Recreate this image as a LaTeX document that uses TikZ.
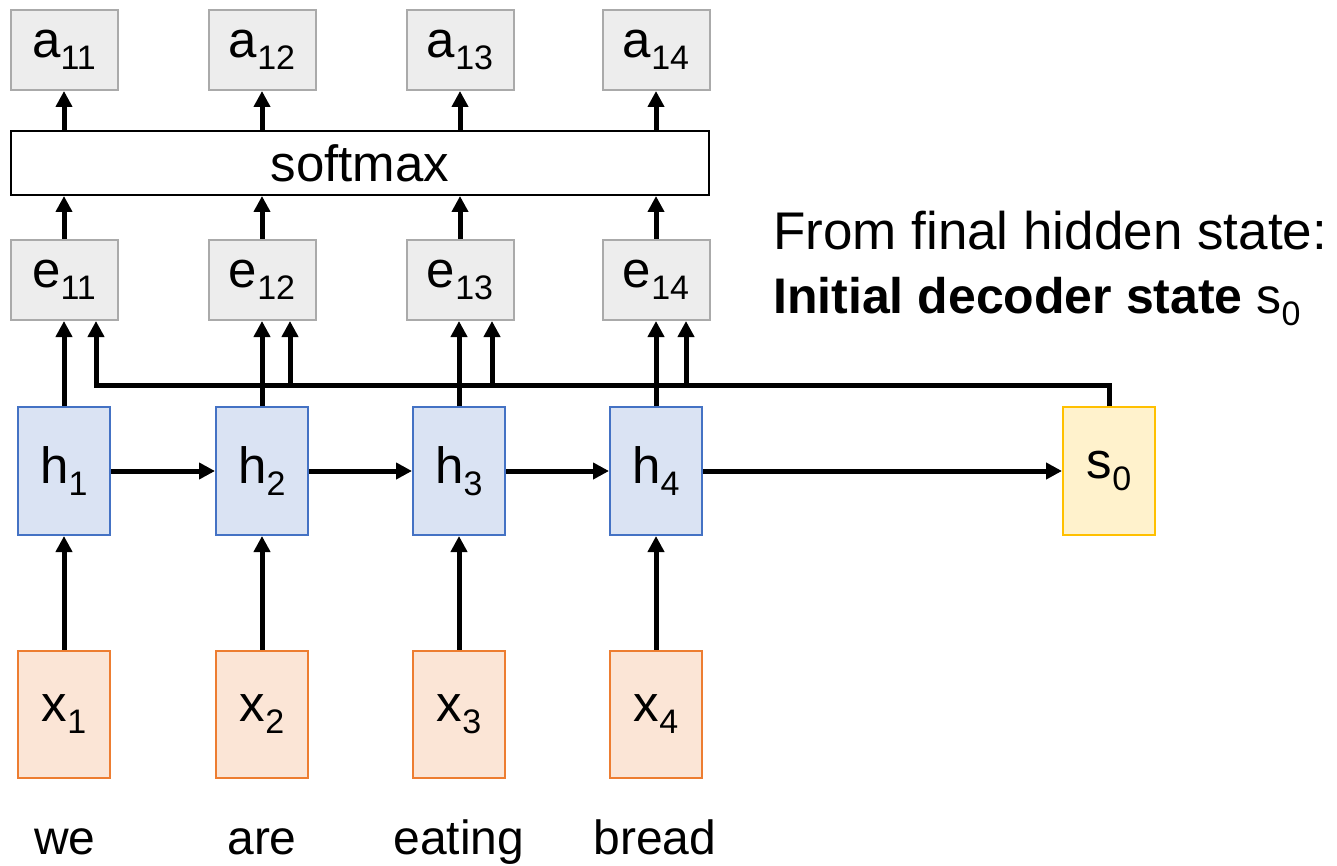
\documentclass[tikz,border=0pt]{standalone}
\usepackage{fontspec}
\setmainfont{Liberation Sans}
\usetikzlibrary{arrows.meta}
\definecolor{grayfill}{HTML}{EDEDED}
\definecolor{graydraw}{HTML}{AAAAAA}
\definecolor{hfill}{HTML}{DAE3F3}
\definecolor{hdraw}{HTML}{4472C4}
\definecolor{xfill}{HTML}{FBE5D6}
\definecolor{xdraw}{HTML}{ED7D31}
\definecolor{sfill}{HTML}{FFF2CC}
\definecolor{sdraw}{HTML}{FFC000}
\newcommand{\lbl}[2]{#1\raisebox{-12pt}{\fontsize{34}{34}\selectfont #2}}
\begin{document}
\begin{tikzpicture}[x=1pt,y=-1pt,
    every node/.style={font=\fontsize{51}{56}\selectfont,inner sep=0pt},
    word/.style={anchor=base,font=\fontsize{48}{54}\selectfont},
    gbox/.style={draw=graydraw,fill=grayfill,line width=2pt,minimum width=107pt,minimum height=80pt},
    hbox/.style={draw=hdraw,fill=hfill,line width=2pt,minimum width=92pt,minimum height=128pt},
    xbox/.style={draw=xdraw,fill=xfill,line width=2pt,minimum width=92pt,minimum height=127pt},
    sbox/.style={draw=sdraw,fill=sfill,line width=2pt,minimum width=92pt,minimum height=128pt},
    arr/.style={line width=5pt,-{Triangle[length=16pt,width=16pt]}}]
    \useasboundingbox (0,0) rectangle (1337,866);
    % attention weights
    \node[gbox] (a1) at (64,50) {\lbl{a}{11}};
    \node[gbox] (a2) at (262,50) {\lbl{a}{12}};
    \node[gbox] (a3) at (460,50) {\lbl{a}{13}};
    \node[gbox] (a4) at (656,50) {\lbl{a}{14}};
    \node[draw,line width=2pt,minimum width=698pt,minimum height=64pt] (sm) at (360,163) {softmax};
    % scores
    \node[gbox] (e1) at (64,280) {\lbl{e}{11}};
    \node[gbox] (e2) at (262,280) {\lbl{e}{12}};
    \node[gbox] (e3) at (460,280) {\lbl{e}{13}};
    \node[gbox] (e4) at (656,280) {\lbl{e}{14}};
    % encoder
    \node[hbox] (h1) at (64,471) {\lbl{h}{1}};
    \node[hbox] (h2) at (262,471) {\lbl{h}{2}};
    \node[hbox] (h3) at (459,471) {\lbl{h}{3}};
    \node[hbox] (h4) at (656,471) {\lbl{h}{4}};
    \node[sbox] (s0) at (1109,471) {\lbl{s}{0}};
    \node[xbox] (x1) at (64,714) {\lbl{x}{1}};
    \node[xbox] (x2) at (262,714) {\lbl{x}{2}};
    \node[xbox] (x3) at (459,714) {\lbl{x}{3}};
    \node[xbox] (x4) at (656,714) {\lbl{x}{4}};
    \node[word] (w1) at (65,854) {we};
    \node[word] (w2) at (262,854) {are};
    \node[word] (w3) at (459,854) {eating};
    \node[word] (w4) at (655,854) {bread};
    \node[anchor=base west,font=\fontsize{53}{58}\selectfont] (t1) at (773,250) {From final hidden state:};
    \node[anchor=base west,font=\fontsize{50}{58}\selectfont] (t2) at (773,313) {\textbf{Initial decoder state} \lbl{s}{0}};
    % arrows
    \draw[arr] (x1) -- (h1);
    \draw[arr] (x2) -- (h2);
    \draw[arr] (x3) -- (h3);
    \draw[arr] (x4) -- (h4);
    \draw[arr] (h1) -- (h2);
    \draw[arr] (h2) -- (h3);
    \draw[arr] (h3) -- (h4);
    \draw[arr] (h4) -- (s0);
    \coordinate (bus) at (0,385);
    \coordinate (k1) at ([xshift=32pt]e1.south);
    \coordinate (k2) at ([xshift=28pt]e2.south);
    \coordinate (k3) at ([xshift=32pt]e3.south);
    \coordinate (k4) at ([xshift=30pt]e4.south);
    \draw[arr] (s0.north) |- (k1 |- bus) -- (k1);
    \draw[arr] (k2 |- bus) -- (k2);
    \draw[arr] (k3 |- bus) -- (k3);
    \draw[arr] (k4 |- bus) -- (k4);
    \draw[arr] (h1.north) -- (h1.north |- e1.south);
    \draw[arr] (h2.north) -- (h2.north |- e2.south);
    \draw[arr] (h3.north) -- (h3.north |- e3.south);
    \draw[arr] (h4.north) -- (h4.north |- e4.south);
    \draw[arr] (e1.north) -- (e1.north |- sm.south);
    \draw[arr] (e2.north) -- (e2.north |- sm.south);
    \draw[arr] (e3.north) -- (e3.north |- sm.south);
    \draw[arr] (e4.north) -- (e4.north |- sm.south);
    \draw[arr] (a1.south |- sm.north) -- (a1.south);
    \draw[arr] (a2.south |- sm.north) -- (a2.south);
    \draw[arr] (a3.south |- sm.north) -- (a3.south);
    \draw[arr] (a4.south |- sm.north) -- (a4.south);
\end{tikzpicture}
\end{document}
